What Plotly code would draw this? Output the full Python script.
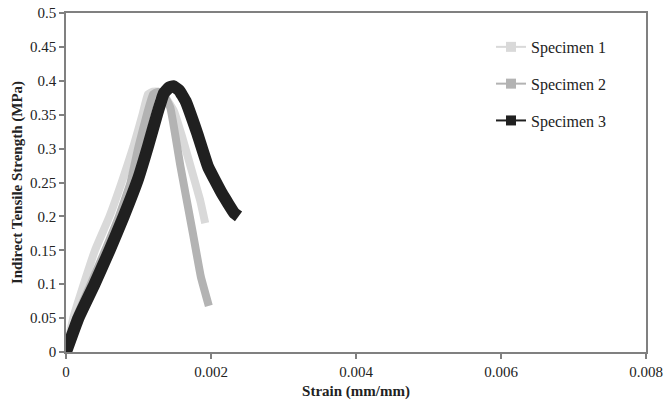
import plotly.graph_objects as go

# Specimen 1 (light gray)
s1_strain = [0, 0.0001, 0.000245, 0.0004, 0.0006, 0.00078, 0.00093, 0.00106, 0.00113,
             0.0012, 0.00128, 0.00137, 0.00149, 0.00160, 0.00172, 0.00185, 0.00192]
s1_stress = [0, 0.05, 0.10, 0.15, 0.20, 0.254, 0.303, 0.352, 0.38,
             0.384, 0.384, 0.376, 0.355, 0.318, 0.273, 0.224, 0.19]

# Specimen 2 (medium gray)
s2_strain = [0, 0.00014, 0.00034, 0.00054, 0.00073, 0.00089, 0.001, 0.00112, 0.0012,
             0.00127, 0.00135, 0.00144, 0.00158, 0.00175, 0.00186, 0.00197]
s2_stress = [0, 0.05, 0.10, 0.15, 0.20, 0.25, 0.303, 0.352, 0.38,
             0.384, 0.379, 0.36, 0.273, 0.175, 0.111, 0.068]

# Specimen 3 (black)
s3_strain = [0, 0.000171, 0.000393, 0.000601, 0.000796, 0.00099, 0.00113, 0.00126, 0.00135,
             0.00142, 0.00148, 0.00156, 0.00165, 0.00181, 0.00196, 0.00215, 0.00232, 0.00238]
s3_stress = [0, 0.05, 0.10, 0.15, 0.20, 0.254, 0.303, 0.352, 0.3815,
             0.390, 0.392, 0.386, 0.37, 0.3225, 0.273, 0.234, 0.205, 0.20]

names = ["Specimen 1", "Specimen 2", "Specimen 3"]
colors = ["#d9d9d9", "#b3b3b3", "#202020"]
widths = [8, 8, 12]

x_ticks = [0, 0.002, 0.004, 0.006, 0.008]
x_labels = ["0", "0.002", "0.004", "0.006", "0.008"]
y_ticks = [0, 0.05, 0.1, 0.15, 0.2, 0.25, 0.3, 0.35, 0.4, 0.45, 0.5]
y_labels = ["0", "0.05", "0.1", "0.15", "0.2", "0.25", "0.3", "0.35", "0.4", "0.45", "0.5"]

FONT = "Liberation Serif"

fig = go.Figure()
data = [(s1_strain, s1_stress), (s2_strain, s2_stress), (s3_strain, s3_stress)]
for (xs, ys), n, c, w in zip(data, names, colors, widths):
    fig.add_trace(go.Scatter(x=xs, y=ys, mode="lines", name=n, showlegend=False,
                             line=dict(color=c, width=w, shape="spline", smoothing=0.3)))
for n, c in zip(names, colors):
    fig.add_trace(go.Scatter(x=[None], y=[None], mode="lines+markers", name=n,
                             legendgroup=n, showlegend=True,
                             line=dict(color=c, width=2),
                             marker=dict(symbol="square", size=10, color=c)))

fig.update_layout(
    width=664, height=401,
    margin=dict(l=66, r=18, t=13, b=49),
    paper_bgcolor="white", plot_bgcolor="white",
    font=dict(family=FONT, size=15, color="#222222"),
    showlegend=True,
    legend=dict(x=(491 - 66) / 580, y=0.950, xanchor="left", yanchor="top",
                bgcolor="rgba(0,0,0,0)", borderwidth=0, tracegroupgap=13,
                font=dict(family=FONT, size=16, color="#222222")),
    xaxis=dict(range=[0, 0.008], tickvals=x_ticks, ticktext=x_labels,
               showgrid=False, zeroline=False, automargin=False,
               showline=True, linecolor="#808080", linewidth=1.5, mirror=True,
               ticks="outside", ticklen=5, tickcolor="#808080", tickwidth=1.5,
               tickfont=dict(family=FONT, size=15, color="#222222"),
               title=dict(text="<b>Strain (mm/mm)</b>", standoff=7,
                          font=dict(family=FONT, size=15, color="#222222"))),
    yaxis=dict(range=[0, 0.5], tickvals=y_ticks, ticktext=y_labels,
               showgrid=False, zeroline=False, automargin=False,
               showline=True, linecolor="#808080", linewidth=1.5, mirror=True,
               ticks="outside", ticklen=5, tickcolor="#808080", tickwidth=1.5,
               tickfont=dict(family=FONT, size=15, color="#222222"),
               title=dict(text="<b>Indirect Tensile Strength (MPa)</b>", standoff=4,
                          font=dict(family=FONT, size=15, color="#222222"))),
)

fig.write_html("out.html")
